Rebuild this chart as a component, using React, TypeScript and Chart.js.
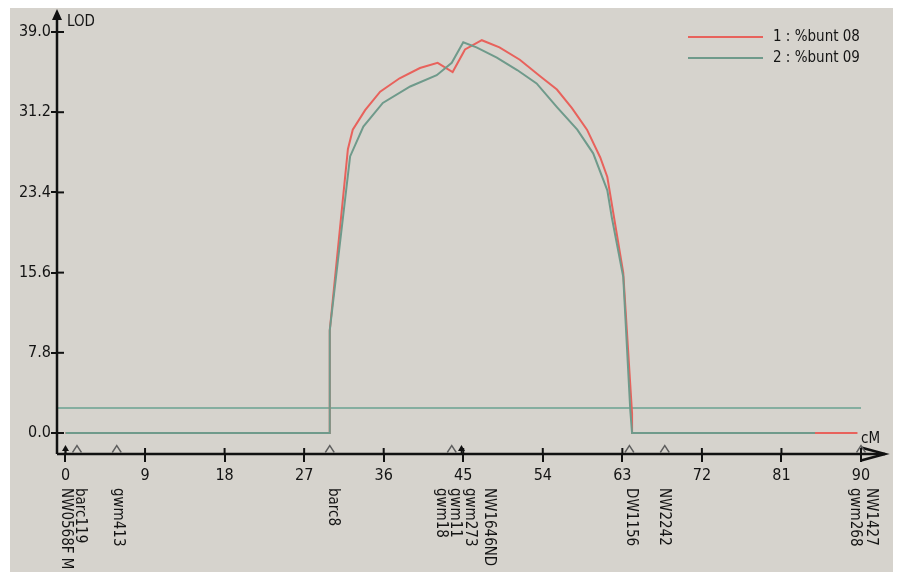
import React, { useEffect, useRef } from "react";
import { Chart, registerables } from "chart.js";

Chart.register(...registerables);

// ---- data ----
const X_MIN = -0.96;
const X_MAX = 90;
const Y_MIN = -2.04;
const Y_MAX = 39;
const xTicks = [0, 9, 18, 27, 36, 45, 54, 63, 72, 81, 90];
const yTicks = [0, 7.8, 15.6, 23.4, 31.2, 39.0];

const bunt08Label = "1 : %bunt 08";
const bunt08CM = [0, 29.9, 29.9, 31.95, 32.5, 33.9, 35.6, 37.8, 40.1, 42.1, 43.8, 45.2, 47.1, 49.1, 51.4, 53.7, 55.6, 57.3, 59.0, 60.5, 61.3, 63.1, 64.1, 64.1, 89.6];
const bunt08LOD = [0, 0, 10.0, 27.6, 29.5, 31.4, 33.2, 34.5, 35.5, 36.0, 35.1, 37.3, 38.2, 37.5, 36.3, 34.7, 33.4, 31.6, 29.5, 26.8, 24.9, 15.6, 1.9, 0, 0];

const bunt09Label = "2 : %bunt 09";
const bunt09CM = [0, 29.9, 29.9, 32.2, 33.7, 35.9, 39.0, 42.0, 43.7, 45.0, 46.5, 48.8, 51.1, 53.3, 55.6, 57.9, 59.7, 61.3, 61.8, 63.1, 63.9, 64.1, 84.8];
const bunt09LOD = [0, 0, 10.0, 26.9, 29.8, 32.1, 33.7, 34.8, 36.0, 38.0, 37.5, 36.5, 35.3, 34.0, 31.7, 29.5, 27.2, 23.6, 21.0, 15.2, 2.2, 0, 0];

const thresholdLOD = 2.43;

const markerNames = ["NW0568F M", "barc119", "gwm413", "barc8", "gwm18", "gwm11", "gwm273", "NW1646ND", "DW1156", "NW2242", "gwm268", "NW1427"];
const markerLabelCM = [0.1, 1.6, 5.9, 30.3, 42.5, 44.1, 45.8, 47.9, 64.0, 67.7, 89.3, 91.1];
const triangleCM = [1.3, 5.8, 29.9, 43.7, 63.8, 67.8, 90];
const arrowCM = [0, 44.8];

// ---- styles ----
const BG = "#d6d3cd";
const RED = "#e8625c";
const GREEN = "#6f9a8b";
const THRESH = "#6aa291";
const INK = "#141414";
const FONT = "'Liberation Sans Narrow', 'Arial Narrow', 'DejaVu Sans Condensed', 'Liberation Sans', Arial, sans-serif";

const pts = (xs: number[], ys: number[]) => xs.map((x, i) => ({ x, y: ys[i] }));

export default function App() {
  const ref = useRef<HTMLCanvasElement>(null);

  useEffect(() => {
    const canvas = ref.current;
    if (!canvas) return;

    const decor = {
      id: "decor",
      beforeDraw(chart: any) {
        const { ctx, width, height } = chart;
        ctx.save();
        ctx.fillStyle = BG;
        ctx.fillRect(0, 0, width, height);
        ctx.restore();
      },
      afterDraw(chart: any) {
        const ctx = chart.ctx as CanvasRenderingContext2D;
        const xs = chart.scales.x;
        const ys = chart.scales.y;
        const ax = xs.left;
        const ay = ys.bottom;
        ctx.save();
        ctx.strokeStyle = "#111";
        ctx.fillStyle = "#111";
        ctx.lineWidth = 2.5;
        // y axis with arrow
        ctx.beginPath();
        ctx.moveTo(ax, ay);
        ctx.lineTo(ax, 11);
        ctx.stroke();
        ctx.beginPath();
        ctx.moveTo(ax, 2);
        ctx.lineTo(ax - 5, 13);
        ctx.lineTo(ax + 5, 13);
        ctx.closePath();
        ctx.fill();
        // x axis with open arrow
        const xEnd = xs.right + 24;
        ctx.beginPath();
        ctx.moveTo(ax, ay);
        ctx.lineTo(xEnd, ay);
        ctx.stroke();
        ctx.beginPath();
        ctx.moveTo(xEnd - 24, ay - 6.5);
        ctx.lineTo(xEnd, ay);
        ctx.lineTo(xEnd - 24, ay + 6.5);
        ctx.stroke();
        // inner tick parts
        ctx.lineWidth = 2;
        for (const v of yTicks) {
          const py = ys.getPixelForValue(v);
          ctx.beginPath();
          ctx.moveTo(ax, py);
          ctx.lineTo(ax + 7, py);
          ctx.stroke();
        }
        for (const v of xTicks) {
          const px = xs.getPixelForValue(v);
          ctx.beginPath();
          ctx.moveTo(px, ay);
          ctx.lineTo(px, ay - 6);
          ctx.stroke();
        }
        // axis titles
        ctx.fillStyle = INK;
        ctx.font = `15px ${FONT}`;
        ctx.textAlign = "left";
        ctx.textBaseline = "alphabetic";
        ctx.fillText("LOD", ax + 10, 19);
        ctx.fillText("cM", xs.right, ay - 11);

        // marker glyphs
        ctx.strokeStyle = "#5e5e5e";
        ctx.lineWidth = 1.4;
        for (const c of triangleCM) {
          const px = xs.getPixelForValue(c);
          ctx.beginPath();
          ctx.moveTo(px - 4.5, ay - 1.5);
          ctx.lineTo(px, ay - 8.5);
          ctx.lineTo(px + 4.5, ay - 1.5);
          ctx.stroke();
        }
        ctx.fillStyle = "#111";
        ctx.strokeStyle = "#111";
        ctx.lineWidth = 1.5;
        for (const c of arrowCM) {
          const px = xs.getPixelForValue(c);
          ctx.beginPath();
          ctx.moveTo(px, ay - 9);
          ctx.lineTo(px - 3.5, ay - 3);
          ctx.lineTo(px + 3.5, ay - 3);
          ctx.closePath();
          ctx.fill();
          ctx.beginPath();
          ctx.moveTo(px, ay - 4);
          ctx.lineTo(px, ay);
          ctx.stroke();
        }
        // marker labels (rotated)
        ctx.fillStyle = INK;
        ctx.font = `15px ${FONT}`;
        ctx.textAlign = "left";
        ctx.textBaseline = "middle";
        markerNames.forEach((name, i) => {
          const px = xs.getPixelForValue(markerLabelCM[i]);
          ctx.save();
          ctx.translate(px, ay + 34);
          ctx.rotate(Math.PI / 2);
          ctx.fillText(name, 0, 0);
          ctx.restore();
        });

        // legend
        const legendItems = chart.data.datasets.filter((d: any) => d.showInLegend);
        ctx.font = `15px ${FONT}`;
        ctx.textBaseline = "middle";
        legendItems.forEach((d: any, i: number) => {
          const y = 30 + i * 21;
          ctx.strokeStyle = d.borderColor;
          ctx.lineWidth = 2;
          ctx.beginPath();
          ctx.moveTo(678, y);
          ctx.lineTo(753, y);
          ctx.stroke();
          ctx.fillStyle = INK;
          ctx.fillText(d.label, 763, y);
        });
        ctx.restore();
      },
    };

    const chart = new Chart(canvas, {
      type: "line",
      data: {
        datasets: [
          {
            label: bunt08Label,
            data: pts(bunt08CM, bunt08LOD),
            borderColor: RED,
            borderWidth: 2,
            pointRadius: 0,
            tension: 0,
            order: 1,
            showInLegend: true,
          } as any,
          {
            label: bunt09Label,
            data: pts(bunt09CM, bunt09LOD),
            borderColor: GREEN,
            borderWidth: 2,
            pointRadius: 0,
            tension: 0,
            order: 0,
            showInLegend: true,
          } as any,
          {
            label: "threshold",
            data: [
              { x: X_MIN, y: thresholdLOD },
              { x: X_MAX, y: thresholdLOD },
            ],
            borderColor: THRESH,
            borderWidth: 1.6,
            pointRadius: 0,
            tension: 0,
            order: 2,
          } as any,
        ],
      },
      options: {
        animation: false,
        responsive: false,
        devicePixelRatio: 1,
        layout: { padding: { left: 7, right: 40, top: 25, bottom: 0 } },
        plugins: { legend: { display: false }, tooltip: { enabled: false } },
        scales: {
          x: {
            type: "linear",
            min: X_MIN,
            max: X_MAX,
            afterBuildTicks: (s: any) => {
              s.ticks = xTicks.map((v) => ({ value: v }));
            },
            afterFit: (s: any) => {
              s.height = 118;
            },
            border: { display: false },
            grid: { drawOnChartArea: false, drawTicks: true, tickLength: 8, color: "#111", lineWidth: 2 },
            ticks: {
              padding: 4,
              color: INK,
              font: { family: FONT, size: 16 },
              maxRotation: 0,
              autoSkip: false,
              callback: (v: any) => String(v),
            },
          },
          y: {
            type: "linear",
            min: Y_MIN,
            max: Y_MAX,
            afterBuildTicks: (s: any) => {
              s.ticks = yTicks.map((v) => ({ value: v }));
            },
            afterFit: (s: any) => {
              s.width = 40;
            },
            border: { display: false },
            grid: { drawOnChartArea: false, drawTicks: true, tickLength: 6, color: "#111", lineWidth: 2 },
            ticks: {
              padding: 0,
              color: INK,
              font: { family: FONT, size: 16 },
              autoSkip: false,
              callback: (v: any) => Number(v).toFixed(1),
            },
          },
        },
      },
      plugins: [decor],
    } as any);

    return () => chart.destroy();
  }, []);

  return (
    <div style={{ position: "relative", left: 2, top: -1, width: 891, height: 565 }}>
      <canvas ref={ref} width={891} height={565} style={{ display: "block" }} />
    </div>
  );
}
